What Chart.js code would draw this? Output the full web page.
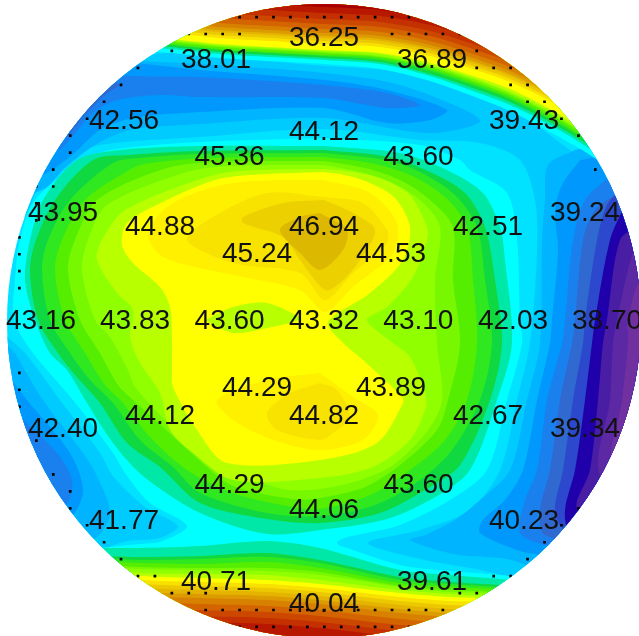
<!DOCTYPE html>
<html>
<head>
<meta charset="utf-8">
<style>
  html, body { margin: 0; padding: 0; background: #fff; }
  canvas { display: block; }
</style>
<script src="https://cdn.jsdelivr.net/npm/chart.js@4"></script>
</head>
<body>
<canvas id="map" width="639" height="636"></canvas>
<script>
// measurement sites, wafer coordinates
const siteX = [0, -10.8, 10.8, -20, 20, -26.1, 26.1, -28.3, 28.3, -26.1, 26.1, -20, 20, -10.8, 10.8, 0,
  0, -9.45, 9.45, -16.4, 16.4, -18.9, 18.9, -16.4, 16.4, -9.45, 9.45, 0,
  0, -6.7, 6.7, -9.44, 9.44, -6.7, 6.7, 0, 0];
const siteY = [28.3, 26.1, 26.1, 20, 20, 10.8, 10.8, 0, 0, -10.8, -10.8, -20, -20, -26.1, -26.1, -28.3,
  18.9, 16.4, 16.4, 9.45, 9.45, 0, 0, -9.45, -9.45, -16.4, -16.4, -18.9,
  9.44, 6.7, 6.7, 0, 0, -6.7, -6.7, -9.44, 0];
const siteValues = ["36.25", "38.01", "36.89", "42.56", "39.43", "43.95", "39.24", "43.16", "38.70", "42.40", "39.34", "41.77", "40.23", "40.71", "39.61", "40.04",
  "44.12", "45.36", "43.60", "44.88", "42.51", "43.83", "42.03", "44.12", "42.67", "44.29", "43.60", "44.06",
  "46.94", "45.24", "44.53", "43.60", "43.10", "44.29", "43.89", "44.82", "43.32"];

// edge dies, row / column index on the die lattice
const dieRows = [18, 18, 18, 18, 18, 18, 18, 18, 18, 18, 18,
  17, 17, 17, 17, 17, 17, 17, 17, 17,
  16, 16, 16, 15, 15, 15, 15, 14, 14, 14, 13, 13, 13, 12, 12, 11, 11, 10, 10, 9, 9, 8, 8, 7, 6,
  5, 4, 3, 2, -3, -4, -5, -7, -8, -9, -10, -11, -11, -12, -12, -13, -13, -14, -14,
  -15, -15, -15, -15, -16, -16, -16, -16, -16,
  -17, -17, -17, -17, -17, -17, -17, -17, -17, -17, -17, -17, -17, -17, -17,
  -18, -18, -18, -18, -18, -18, -18, -18, -18, -18, -18];
const dieCols = [-5, -4, -3, -2, -1, 0, 1, 2, 3, 4, 5,
  -8, -7, -6, -5, 4, 5, 6, 7, 8,
  -10, -9, 9, -11, 9, 10, 11, -12, 11, 12, -13, 12, 13, -14, 14, -15, 15, -16, -15, -16, 16, -17, -16, -17, -17,
  -18, -18, -18, -18, -18, -18, -18, -17, -17, -16, -15, -15, 15, -14, 14, -13, 13, -12, 12,
  -11, -10, 10, 11, -9, -8, -7, 8, 9,
  -7, -6, -5, -4, -3, -2, -1, 0, 1, 2, 3, 4, 5, 6, 7,
  -5, -4, -3, -2, -1, 0, 1, 2, 3, 4, 5];
const diePitch = 1.694;

// contour lines of the top and bottom edge ridges, y read at common x
const topX = [-22.4, -16.4, -10.4, -5.4, 0, 5.6, 10.6, 14.6, 18.6, 22.6, 26.6, 31.6];
const topCyan = [27.3, 26.9, 26.3, 26, 25.7, 25.2, 24, 22.6, 21, 18.9, 16.6, 12.9];
const topTeal = [27.7, 27.3, 26.7, 26.4, 26.1, 25.7, 24.5, 23.1, 21.6, 19.6, 17.2, 13.5];
const topG1 = [27.9, 27.5, 26.9, 26.6, 26.3, 25.9, 24.7, 23.4, 21.9, 19.9, 17.5, 13.8];
const topG2 = [28.1, 27.7, 27.1, 26.8, 26.5, 26.1, 25, 23.7, 22.2, 20.2, 17.8, 14.1];
const topG3 = [28.2, 27.8, 27.2, 26.9, 26.6, 26.3, 25.2, 23.9, 22.4, 20.4, 18, 14.3];
const topG4 = [28.4, 28, 27.4, 27.1, 26.8, 26.4, 25.4, 24.1, 22.6, 20.7, 18.2, 14.5];
const topL1 = [28.5, 28.1, 27.5, 27.2, 26.9, 26.5, 25.5, 24.3, 22.8, 20.8, 18.4, 14.7];
const topL2 = [28.6, 28.2, 27.6, 27.3, 27, 26.7, 25.6, 24.4, 22.9, 21, 18.5, 14.9];
const topY0 = [28.7, 28.3, 27.7, 27.4, 27.1, 26.8, 25.8, 24.6, 23.2, 21.2, 18.8, 15.1];
const topY1 = [29.3, 28.9, 28.3, 28, 27.7, 27.4, 26.5, 25.3, 23.9, 22, 19.5, 15.8];
const topY2 = [29.6, 29.2, 28.6, 28.3, 28, 27.7, 26.8, 25.6, 24.2, 22.3, 19.8, 16.1];
const topY3 = [29.9, 29.5, 28.9, 28.6, 28.3, 28, 27.1, 25.9, 24.5, 22.6, 20.1, 16.4];
const topC1 = [30.1, 29.7, 29.1, 28.8, 28.5, 28.2, 27.3, 26.1, 24.7, 22.8, 20.3, 16.6];
const topC2 = [30.4, 30, 29.4, 29.1, 28.8, 28.5, 27.6, 26.4, 25, 23.1, 20.6, 16.9];
const topC3 = [30.8, 30.4, 29.8, 29.5, 29.2, 28.9, 28, 26.8, 25.4, 23.5, 21, 17.3];
const topC4 = [31.3, 30.9, 30.3, 30, 29.7, 29.4, 28.5, 27.3, 25.9, 24, 21.5, 17.8];
const topC5 = [31.8, 31.4, 30.8, 30.5, 30.2, 29.9, 29, 27.8, 26.4, 24.5, 22, 18.3];
const topC6 = [32.4, 32, 31.4, 31.1, 30.8, 30.5, 29.6, 28.4, 27, 25.1, 22.6, 18.9];
const topC7 = [33, 32.6, 32, 31.7, 31.4, 31.1, 30.2, 29, 27.6, 25.7, 23.2, 19.5];

const botX = [-22.4, -18.4, -12.4, -5.7, -0.4, 7.6, 12.6, 17.6, 23.6];
const botCyan = [-22.7, -22.3, -21.9, -21.4, -21.9, -24.4, -25, -25.4, -26];
const botTeal = [-22.7, -22.7, -22.5, -22, -22.7, -24.9, -25.4, -25.8, -26.4];
const botG1 = [-23.5, -23.6, -23.5, -23.2, -23.9, -25.6, -26.1, -26.4, -26.9];
const botG2 = [-23.7, -23.9, -23.8, -23.6, -24.2, -25.9, -26.3, -26.6, -27];
const botG3 = [-24, -24.2, -24.3, -24.1, -24.7, -26.2, -26.6, -26.8, -27.2];
const botG4 = [-24.3, -24.6, -24.7, -24.7, -25.1, -26.5, -26.9, -27.1, -27.4];
const botL1 = [-24.5, -24.8, -24.9, -25, -25.4, -26.6, -27.1, -27.2, -27.5];
const botL2 = [-24.8, -25.2, -25.3, -25.4, -25.9, -26.9, -27.3, -27.5, -27.7];
const botY0 = [-25.1, -25.5, -25.7, -25.9, -26.3, -27.2, -27.6, -27.7, -27.9];
const botY1 = [-25.5, -25.9, -26.1, -26.3, -26.7, -27.6, -28, -28.1, -28.3];
const botY2 = [-25.9, -26.3, -26.5, -26.7, -27.1, -28, -28.4, -28.5, -28.7];
const botY3 = [-26.3, -26.7, -26.9, -27.1, -27.5, -28.4, -28.8, -28.9, -29.1];
const botC1 = [-26.7, -27.1, -27.3, -27.5, -27.9, -28.8, -29.2, -29.3, -29.5];
const botC2 = [-27.1, -27.5, -27.7, -27.9, -28.3, -29.2, -29.6, -29.7, -29.9];
const botC3 = [-27.7, -28.1, -28.3, -28.5, -28.9, -29.8, -30.2, -30.3, -30.5];
const botC4 = [-28.3, -28.7, -28.9, -29.1, -29.5, -30.4, -30.8, -30.9, -31.1];
const botC5 = [-28.9, -29.3, -29.5, -29.7, -30.1, -31, -31.4, -31.5, -31.7];
const botC6 = [-29.5, -29.9, -30.1, -30.3, -30.7, -31.6, -32, -32.1, -32.3];

// closed contours, low side
const sky2 = [[-32.4,22.1],[-26.4,22.1],[-17.4,26.6],[-7.4,26.1],[0,25.5],[7.6,24.9],[14.6,22.6],[19.6,20.6],[24.6,17.1],[28.6,14.1],[33.6,12.1],[33.6,-31.9],[23.6,-26.9],[15.6,-24.9],[9.6,-23.8],[4.4,-22.2],[9.6,-20.9],[14.6,-18.9],[17.6,-14.9],[19.3,-7.9],[20.6,-2.2],[21.3,7.1],[21.1,12.1],[19.6,16.1],[15.6,17.8],[9.6,18.1],[0,19.2],[-12.4,18.4],[-22.4,17.6],[-25.9,16.1],[-28.4,13.6],[-30.2,10.1],[-32.4,9.6]];
const sky2Low = [[-31.9,-1.4],[-29.9,-3.2],[-26.4,-7.9],[-22.4,-13.2],[-21.1,-15.5],[-17.9,-18.6],[-14.6,-20.5],[-16.4,-21.7],[-19.7,-22],[-21.7,-22.7],[-26.4,-24.9],[-33.4,-17.9],[-33.4,-1.9]];
const sky3 = [[-20.4,26.1],[-12.4,25.7],[0,24.8],[7.6,23.6],[15.6,20.1],[10.6,18.8],[0,20.3],[-12.4,19.7],[-19.4,19.1],[-22.9,17.6],[-25.9,15.3],[-28.2,13.1],[-32.4,12.6],[-32.4,26.1]];
const sky3Low = [[-30.9,-3.2],[-28.1,-7.9],[-24.1,-13.2],[-22.7,-15.5],[-21.4,-19.4],[-23.4,-21.9],[-28.4,-17.9],[-33.4,-4.9],[-31.9,-2.4]];
const sky3Right = [[25.1,17.1],[22.4,15.6],[22.1,12.1],[21.8,8.1],[21.6,-2.2],[20.3,-7.9],[18.6,-14.9],[15.6,-17.9],[13.1,-19.9],[10.1,-21.4],[8.6,-21.9],[12.9,-23.3],[18.3,-23.8],[21.6,-24.9],[33.6,-27.9],[33.6,19.1]];
const sky4 = [[-32.4,26.1],[-20.4,25.9],[-12.4,25.1],[0,24.1],[6.3,23.1],[12.3,21.1],[10.6,20.1],[6.3,19.8],[0,21.3],[-12.4,20.9],[-19.1,20.3],[-22.4,19.1],[-25.2,16.6],[-28.2,14.6],[-32.4,14.1]];
const sky4Low = [[-31.4,-5.7],[-29.7,-7.9],[-25.4,-13.2],[-24.1,-16.9],[-25.2,-19.5],[-28.4,-20.9],[-33.4,-7.9]];
const sky4Right = [[25.6,16.1],[23.8,13.6],[23.1,11.1],[23.4,7.1],[22.8,0.1],[22.6,-2.2],[21.3,-7.9],[19.9,-14.9],[18.1,-17.9],[15.9,-19.9],[15.6,-21.2],[19.6,-23],[21.6,-23.4],[33.6,-26.9],[33.6,17.1]];
const blue5 = [[-32.4,26.1],[-21.4,24.6],[-12.4,24.4],[0,23.6],[6.3,22.8],[9.6,21.6],[6.3,21.3],[0,22.3],[-12.4,22.4],[-16.4,22.6],[-20.7,22.1],[-23.1,20.8],[-25.2,18.4],[-26.6,17.1],[-32.4,16.1]];
const blue5Low = [[-30.8,-8.9],[-30,-9.9],[-26.7,-13.2],[-25.2,-15.9],[-25.8,-18.4],[-29.4,-19.9],[-33.4,-9.9]];
const blue5Right = [[28.1,14.1],[26.1,12.1],[24.9,8.1],[24.1,0.1],[23.8,-2.2],[22.3,-7.9],[21.3,-14.9],[20.1,-17.9],[19.6,-21.2],[22.1,-22.4],[33.6,-24.9],[33.6,15.1]];
const slate6 = [[-20.4,23.6],[-21.9,22.6],[-23.9,20.6],[-26.2,18.1],[-29.4,18.1],[-23.4,25.1]];
const slate6Low = [[-30.4,-10.9],[-29.2,-12.9],[-28.4,-15.9],[-29.9,-16.9],[-32.4,-11.9]];
const slate6Right = [[29.1,12.6],[27.1,11.1],[25.9,8.1],[25.1,0.1],[24.8,-2.2],[23.6,-7.9],[22.6,-14.9],[21.6,-18.9],[22.1,-21.4],[33.6,-23.9],[33.6,13.1]];
const blue7 = [[29.6,13.1],[28.3,11.6],[27.3,8.1],[26.1,0.1],[25.9,-2.2],[24.9,-7.9],[23.9,-14.9],[23.1,-18.9],[24.1,-20.9],[33.6,-22.9],[33.6,13.1]];
const indigo = [[30.1,11.6],[28.6,8.1],[27.1,0.1],[26.8,-2.2],[26.1,-7.9],[25.1,-14.9],[24.1,-18.9],[24.6,-20.9],[33.6,-21.9],[33.6,12.1]];
const purple1 = [[31.6,9.6],[29.6,8.1],[28.3,0.1],[27.9,-2.2],[27.4,-7.9],[26.6,-14.9],[25.4,-18.9],[33.6,-20.9],[33.6,10.1]];
const purple2 = [[31.6,7.6],[30.8,6.6],[29.3,0.1],[28.9,-2.2],[28.6,-7.9],[27.6,-15.4],[33.6,-19.9],[33.6,8.1]];
const purple3 = [[33.6,5.1],[31.6,4.1],[30.4,0.1],[30.4,-2.2],[29.8,-7.9],[28.8,-14.9],[33.6,-18.9]];

// closed contours, central hill
const hillCyan = [[0,18.3],[9.6,17.6],[13.6,16.1],[14.6,15.1],[18.3,12.8],[19.3,8.1],[19.6,0.1],[19.8,-2.2],[18.3,-7.9],[16.3,-14.9],[12.6,-17.9],[7.6,-20.4],[1.3,-22.2],[7.6,-25.4],[-2.4,-26.9],[-17.4,-24.9],[-20.4,-23.1],[-16.4,-22.1],[-13.7,-20.5],[-17.4,-18.2],[-19.7,-15.5],[-21.1,-13.2],[-25.1,-7.9],[-29.1,-3.2],[-31,0.1],[-30.9,4.1],[-30.4,8.1],[-28.9,12.1],[-23.9,16.1],[-21.4,17.1],[-12.4,17.9]];
const hillTeal = [[0,17.5],[-12.4,17.5],[-20.4,17.1],[-24.7,16.1],[-28.1,12.1],[-29.4,8.1],[-29.9,4.1],[-28.9,0.1],[-27.4,-3.2],[-25.7,-4.9],[-23.7,-8.2],[-21.1,-12.2],[-18.1,-15.5],[-12.4,-19.2],[-5.7,-21.3],[-0.4,-20.9],[6.3,-19.8],[11.3,-17.5],[14.6,-14.9],[17.3,-7.9],[18.8,-2.2],[18.1,6.1],[17.6,9.4],[15.9,12.8],[12.3,15.1],[7.6,16.8]];
const hillG1 = [[0,17.1],[-12.4,17],[-19.4,16.6],[-23.1,16.1],[-26.9,12.1],[-28.8,8.1],[-29.4,5.1],[-28.6,0.1],[-26.6,-3.2],[-24.9,-5.4],[-22.4,-8.2],[-19.7,-12.2],[-16.4,-14.6],[-12.4,-18.2],[-5.7,-19.8],[-0.4,-20.2],[5.6,-19.2],[10.1,-16.9],[13.6,-14.4],[16.6,-7.9],[17.8,-2.2],[17.1,4.1],[16.1,9.4],[14.1,12.8],[10.6,14.9],[6.6,16.4]];
const hillG2 = [[0,16.8],[-12.4,16.7],[-18.4,16.3],[-21.1,15.8],[-25.4,12.1],[-27.6,8.1],[-28.2,5.1],[-27.4,0.1],[-25.4,-3.2],[-23.4,-5.9],[-21.1,-8.2],[-18.4,-11.9],[-15.1,-14.6],[-12.4,-17.2],[-5.7,-19.2],[-0.4,-19.5],[5.1,-18.4],[9.6,-15.9],[12.8,-12.9],[15.6,-7.9],[16.8,-2.2],[16.1,4.1],[15.3,9.4],[13.1,12.6],[9.6,14.9],[6.1,16.1]];
const hillG3 = [[0,16.4],[-11.4,16.3],[-17.4,15.8],[-19.1,15.3],[-23.9,12.1],[-26.2,8.1],[-26.9,5.1],[-25.9,0.1],[-23.9,-3.2],[-21.9,-6.4],[-20.1,-8.2],[-17.4,-11.6],[-13.7,-14.9],[-9.1,-17.2],[-3.7,-18.5],[-0.4,-18.8],[4.6,-17.4],[8.6,-14.9],[12.1,-11.9],[14.3,-7.9],[15.3,-2.2],[14.9,4.1],[14.3,9.4],[12.1,12.4],[8.6,14.6],[4.6,15.8]];
const hillG4 = [[0,16],[-10.4,15.9],[-15.7,15.3],[-22.7,12.1],[-24.9,8.1],[-25.6,5.1],[-24.4,0.1],[-22.4,-3.2],[-20.6,-6.4],[-19.1,-7.9],[-16.1,-10.6],[-11.7,-14.6],[-9.1,-16.5],[-3.1,-17.8],[-0.4,-17.7],[4.1,-16.6],[7.6,-14.4],[11.3,-10.9],[12.4,-7.9],[13.6,-2.2],[12.9,4.1],[12.9,9.4],[10.6,12.1],[7.6,14.1],[4.1,15.3]];
const hillL1 = [[0,15.6],[-9.4,15.5],[-13.7,14.9],[-21.7,11.6],[-23.6,8.1],[-24.2,5.1],[-22.9,0.1],[-21.4,-1.6],[-19.6,-4.9],[-18.9,-6.6],[-15.1,-10.6],[-9.1,-14.9],[-4.1,-16.8],[-0.4,-16.8],[3.6,-15.9],[6.9,-14.4],[10.4,-10.9],[11.8,-7.9],[11.3,-2.2],[11.1,4.1],[11.6,9.4],[9.6,12.1],[6.6,13.9],[3.6,14.9]];
const hillL2 = [[0,15.2],[-8.4,15],[-11.7,14.4],[-19.9,11.1],[-22.2,8.1],[-22.7,6.1],[-20.7,2.8],[-19.1,1.1],[-19.4,-1.6],[-18.4,-4.2],[-16.4,-7.2],[-15.4,-10.9],[-13.1,-13.2],[-9.1,-15.9],[-0.4,-15.7],[4.9,-14.6],[8.6,-11.9],[10.2,-8.6],[10.1,-7.2],[8.6,-3.6],[6.9,-2.2],[4.3,0.1],[6.3,1.4],[8.9,4.4],[10.3,8.1],[10.3,9.4],[8.6,12.6],[6.1,14.1],[3.1,14.9]];
const hillY0 = [[0,14.9],[-7.4,14.6],[-10.9,14.1],[-15.7,12.1],[-19.7,9.8],[-20.2,7.6],[-19.1,5.8],[-16.4,3.4],[-15.4,1.4],[-15.2,-1.9],[-15.2,-4.9],[-15.1,-6.6],[-12.7,-10.9],[-9.7,-14.2],[-0.4,-13.9],[5.3,-12.2],[7.9,-8.2],[7.8,-7.6],[3.9,-3.9],[1.6,-1.9],[0.4,-0.1],[4.6,2.8],[7.9,6.1],[8.6,9.4],[7.1,12.3],[4.6,13.8],[2.1,14.6]];
const saddleLens = [[-11.9,0.1],[-9.1,1.4],[-5.7,1.8],[-2.4,0.3],[-3.1,-0.1],[-5.7,-0.7],[-9.1,-1.2]];
const upperY1 = [[0,14.1],[-9.1,13.8],[-15.1,11.8],[-17.6,8.8],[-16.1,6.4],[-9.1,4.6],[-2.4,3.1],[0.1,0.9],[2.9,3.4],[6.9,6.8],[7.3,9.8],[4.6,12.8]];
const upperY2 = [[0,12.4],[-5.7,12.8],[-11.1,10.4],[-13.7,8.1],[-9.1,5.8],[-2.4,4.8],[0.1,2.1],[2.9,4.8],[6.3,7.8],[6.3,9.1],[3.9,11.8]];
const upperY3 = [[0,12.1],[-4.1,11.8],[-8.1,10.4],[-8.1,9.8],[-4.1,8.4],[-2.4,6.1],[0.1,3.1],[1.6,3.8],[3.6,6.1],[5.1,9.1],[2.9,10.8]];
const upperY4 = [[-0.4,10.8],[-2.4,10.4],[-4.4,9.1],[-2.4,6.8],[-0.4,5.1],[1.9,7.1],[2.3,9.1]];
const lowerY1 = [[-0.4,-5.2],[-5.7,-5.9],[-10.7,-7.9],[-9.1,-9.9],[-5.1,-11.9],[-0.4,-12.9],[3.9,-11.9],[5.4,-9.4],[2.9,-7.6]];
const lowerY2 = [[-0.4,-6.2],[-3.4,-7.2],[-5.7,-9.2],[-4.7,-10.9],[-0.4,-11.9],[0.9,-11.2],[2.6,-9.6],[1.3,-6.9]];

const waferRadius = 31.7;

const cSky1 = "#00e2ff", cSky2 = "#00cbff", cSky3 = "#00b4ff", cSky4 = "#0098fc", cBlue5 = "#1a80ee", cSlate = "#3069d0",
  cBlue7 = "#2c48cc", cIndigo = "#2000aa", cPurple1 = "#4a1ea4", cPurple2 = "#5c28a4", cPurple3 = "#7030a0";
const cCyan = "#00ffff", cTeal = "#00e8a8", cG1 = "#10d840", cG2 = "#30e820", cG3 = "#55ee00", cG4 = "#78f800",
  cL1 = "#90ff00", cL2 = "#b8ff00", cY0 = "#ffff00", cY1 = "#fff000", cY2 = "#f8e200", cY3 = "#ecd000", cY4 = "#dcb800";

function pairs(xs, ys) {
    return xs.map((x, i) => ({ x: x, y: ys[i] }));
}

function ring(points, color) {
    return {
        data: points.concat([points[0]]).map(p => ({ x: p[0], y: p[1] })),
        showLine: true,
        fill: "shape",
        backgroundColor: color,
        borderWidth: 0,
        pointRadius: 0,
        tension: 0.3
    };
}

function ridge(xs, ys, color, side) {
    return {
        data: pairs(xs, ys),
        showLine: true,
        fill: side,
        backgroundColor: color,
        borderWidth: 0,
        pointRadius: 0,
        tension: 0.3
    };
}

// painted in this order, low side first
const layers = [
    ridge([-33, 33], [33, 33], cSky1, "start"),
    ring(sky2, cSky2), ring(sky2Low, cSky2),
    ring(sky3, cSky3), ring(sky3Low, cSky3), ring(sky3Right, cSky3),
    ring(sky4, cSky4), ring(sky4Low, cSky4), ring(sky4Right, cSky4),
    ring(blue5, cBlue5), ring(blue5Low, cBlue5), ring(blue5Right, cBlue5),
    ring(slate6, cSlate), ring(slate6Low, cSlate), ring(slate6Right, cSlate),
    ring(blue7, cBlue7), ring(indigo, cIndigo), ring(purple1, cPurple1), ring(purple2, cPurple2), ring(purple3, cPurple3),

    ring(hillCyan, cCyan), ridge(botX, botCyan, cCyan, "start"),
    ring(hillTeal, cTeal), ring(hillG1, cG1), ring(hillG2, cG2), ring(hillG3, cG3), ring(hillG4, cG4),
    ring(hillL1, cL1), ring(hillL2, cL2), ring(hillY0, cY0), ring(saddleLens, cL2),
    ring(upperY1, cY1), ring(lowerY1, cY1), ring(upperY2, cY2), ring(lowerY2, cY2), ring(upperY3, cY3), ring(upperY4, cY4),

    ridge(topX, topCyan, cCyan, "end"), ridge(topX, topTeal, cTeal, "end"), ridge(topX, topG1, cG1, "end"),
    ridge(topX, topG2, cG2, "end"), ridge(topX, topG3, cG3, "end"), ridge(topX, topG4, cG4, "end"),
    ridge(topX, topL1, cL1, "end"), ridge(topX, topL2, cL2, "end"), ridge(topX, topY0, cY0, "end"),
    ridge(topX, topY1, "#f8e000", "end"), ridge(topX, topY2, "#ecc800", "end"), ridge(topX, topY3, "#e4b400", "end"),
    ridge(topX, topC1, "#dc9c00", "end"), ridge(topX, topC2, "#d88000", "end"), ridge(topX, topC3, "#d46400", "end"),
    ridge(topX, topC4, "#cc4800", "end"), ridge(topX, topC5, "#c43000", "end"), ridge(topX, topC6, "#b81800", "end"),
    ridge(topX, topC7, "#a80000", "end"),

    ridge(botX, botTeal, cTeal, "start"), ridge(botX, botG1, cG1, "start"), ridge(botX, botG2, cG2, "start"),
    ridge(botX, botG3, cG3, "start"), ridge(botX, botG4, cG4, "start"), ridge(botX, botL1, cL1, "start"),
    ridge(botX, botL2, cL2, "start"), ridge(botX, botY0, cY0, "start"), ridge(botX, botY1, "#f8e000", "start"),
    ridge(botX, botY2, "#ecc800", "start"), ridge(botX, botY3, "#e4b400", "start"), ridge(botX, botC1, "#dc9c00", "start"),
    ridge(botX, botC2, "#d88000", "start"), ridge(botX, botC3, "#d46400", "start"), ridge(botX, botC4, "#cc4800", "start"),
    ridge(botX, botC5, "#c43000", "start"), ridge(botX, botC6, "#b81800", "start"),

    {
        data: dieRows.map((row, i) => ({ x: 0.03 + dieCols[i] * diePitch, y: -0.1 + row * diePitch })),
        pointStyle: "rect",
        pointRadius: 1.9,
        pointBackgroundColor: "#000",
        pointBorderWidth: 0
    },
    {
        data: pairs(siteX, siteY),
        pointRadius: 0
    }
];

// a higher order is painted earlier
layers.forEach((set, i) => { set.order = layers.length - i; });
const sitesIndex = layers.length - 1;

const waferClip = {
    id: "waferClip",
    beforeDatasetsDraw(chart) {
        const x = chart.scales.x, y = chart.scales.y;
        const ctx = chart.ctx;
        ctx.save();
        ctx.beginPath();
        ctx.arc(x.getPixelForValue(0), y.getPixelForValue(0), x.getPixelForValue(waferRadius) - x.getPixelForValue(0), 0, Math.PI * 2);
        ctx.clip();
    },
    afterDatasetsDraw(chart) {
        chart.ctx.restore();
    }
};

const siteLabels = {
    id: "siteLabels",
    afterDraw(chart) {
        const ctx = chart.ctx;
        const points = chart.getDatasetMeta(sitesIndex).data;
        ctx.save();
        ctx.font = '28px "Liberation Sans"';
        ctx.fillStyle = "#111";
        ctx.textAlign = "center";
        ctx.textBaseline = "middle";
        points.forEach((p, i) => ctx.fillText(siteValues[i], p.x, p.y + 0.5));
        ctx.restore();
    }
};

new Chart(document.getElementById("map"), {
    type: "scatter",
    data: { datasets: layers },
    options: {
        responsive: false,
        animation: false,
        layout: { padding: 0, autoPadding: false },
        plugins: { legend: { display: false }, tooltip: { enabled: false } },
        scales: {
            x: { type: "linear", min: -32.4, max: 31.5, display: false },
            y: { type: "linear", min: -31.5, max: 32.1, display: false }
        }
    },
    plugins: [waferClip, siteLabels]
});
</script>
</body>
</html>
